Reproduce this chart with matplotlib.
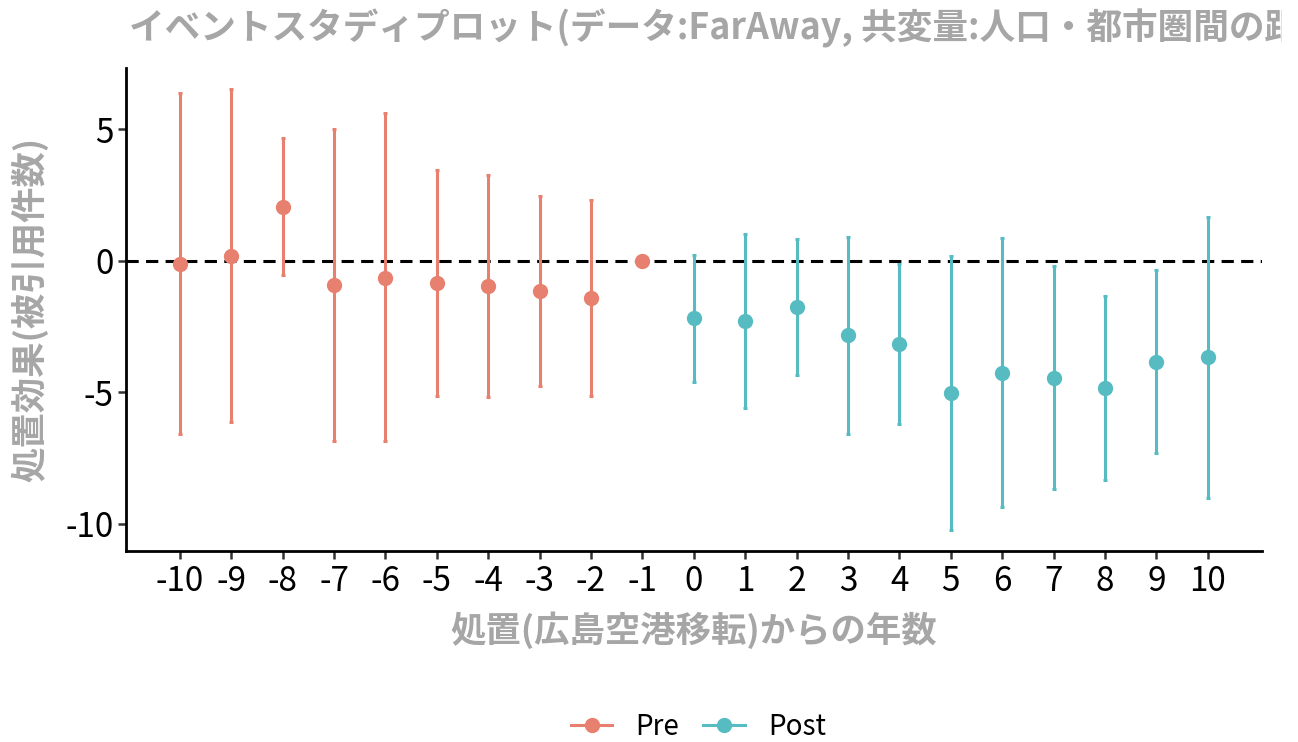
import matplotlib
matplotlib.use('Agg')
import matplotlib.pyplot as plt
from matplotlib.lines import Line2D
from matplotlib.transforms import Bbox

plt.rcParams['font.family'] = ['Noto Sans CJK JP', 'DejaVu Sans']
plt.rcParams['axes.unicode_minus'] = False

# event-time estimates
pre_t = [-10, -9, -8, -7, -6, -5, -4, -3, -2, -1]
pre_est = [-0.11, 0.20, 2.06, -0.91, -0.63, -0.85, -0.96, -1.15, -1.39, 0.0]
pre_hi = [6.38, 6.54, 4.66, 5.02, 5.61, 3.47, 3.26, 2.46, 2.33, 0.0]
pre_lo = [-6.59, -6.12, -0.53, -6.83, -6.84, -5.15, -5.17, -4.76, -5.13, 0.0]

post_t = [0, 1, 2, 3, 4, 5, 6, 7, 8, 9, 10]
post_est = [-2.18, -2.29, -1.76, -2.83, -3.17, -5.02, -4.25, -4.44, -4.83, -3.83, -3.66]
post_hi = [0.23, 1.01, 0.82, 0.92, -0.13, 0.19, 0.86, -0.20, -1.34, -0.34, 1.68]
post_lo = [-4.59, -5.58, -4.33, -6.57, -6.21, -10.23, -9.37, -8.66, -8.33, -7.31, -9.00]

pre_col = '#E8806F'
post_col = '#57BCC2'
grey = '#A6A6A6'

fig = plt.figure(figsize=(12.98, 7.42), dpi=100)
ax = fig.add_axes([0.097, 0.2574, 0.875, 0.651])

ax.axhline(0, color='black', lw=2.2, ls=(0, (4, 2.4)), zorder=1)

for t, e, hi, lo, c in [(pre_t, pre_est, pre_hi, pre_lo, pre_col),
                        (post_t, post_est, post_hi, post_lo, post_col)]:
    yerr = [[e_ - l for e_, l in zip(e, lo)], [h - e_ for e_, h in zip(e, hi)]]
    ax.errorbar(t, e, yerr=yerr, fmt='o', color=c, ms=10, elinewidth=2.2,
                capsize=1.6, capthick=2.2, zorder=3)

ax.set_xlim(-11.05, 11.05)
ax.set_ylim(-11.03, 7.34)
ax.set_xticks(range(-10, 11))
ax.set_yticks([5, 0, -5, -10])
ax.tick_params(axis='both', labelsize=24, length=6, width=1.8, color='#333333',
               labelcolor='black', pad=3)

for s in ['top', 'right']:
    ax.spines[s].set_visible(False)
for s in ['left', 'bottom']:
    ax.spines[s].set_linewidth(2)

ax.set_xlabel('処置(広島空港移転)からの年数', fontsize=25.5, fontweight='bold',
              color=grey, labelpad=9)
ax.set_ylabel('処置効果(被引用件数)', fontsize=25.5, fontweight='bold',
              color=grey, labelpad=12)

# the reference title runs past the plot margin and is cut off there
title = fig.text(0.099, 0.962, 'イベントスタディプロット(データ:FarAway, 共変量:人口・都市圏間の距離)',
                 fontsize=25.7, fontweight='bold', color=grey, ha='left', va='center')
title.set_clip_box(Bbox.from_extents(0, 0, 1282, 742))
title.set_clip_on(True)

handles = [Line2D([0], [0], color=pre_col, marker='o', ms=10, lw=2.2),
           Line2D([0], [0], color=post_col, marker='o', ms=10, lw=2.2)]
fig.legend(handles, ['Pre', 'Post'], loc='center', bbox_to_anchor=(0.538, 0.02),
           ncol=2, frameon=False, fontsize=20, handlelength=1.5, columnspacing=0.86,
           handletextpad=0.83)

fig.savefig('out.png', dpi=100)
